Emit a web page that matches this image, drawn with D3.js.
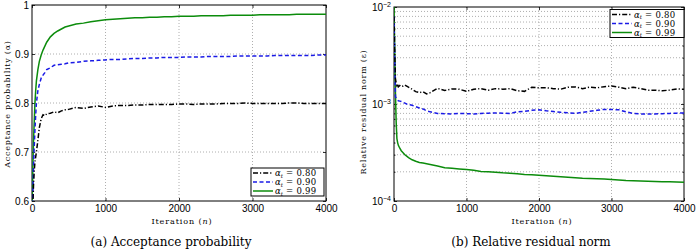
<!DOCTYPE html>
<html>
<head>
<meta charset="utf-8">
<script src="https://cdn.jsdelivr.net/npm/d3@7"></script>
<style>
  body { margin: 0; background: #fff; }
  svg { display: block; }
  .tick text { font-family: "Liberation Sans", Arial, sans-serif; font-size: 10px; fill: #000; }
  .grid line { stroke: #9a9a9a; stroke-width: 0.8; stroke-dasharray: 1,2; }
  text.serif { font-family: "DejaVu Serif", serif; }
</style>
</head>
<body>
<svg id="fig" width="699" height="250"></svg>
<script>
// iteration numbers shared by every series
var iterations = [0, 10, 20, 30, 40, 50, 60, 80, 100, 125, 150, 175, 200, 250, 300, 350, 400, 450, 500,
  600, 700, 800, 900, 1000, 1100, 1200, 1300, 1400, 1500, 1600, 1700, 1800, 1900, 2000,
  2100, 2200, 2300, 2400, 2500, 2600, 2700, 2800, 2900, 3000, 3100, 3200, 3300, 3400, 3500,
  3600, 3700, 3800, 3900, 4000];

// (a) acceptance probability
var accept80 = [0.50, 0.58, 0.63, 0.66, 0.68, 0.69, 0.70, 0.724, 0.75, 0.768, 0.776, 0.774, 0.778, 0.779, 0.782, 0.780, 0.784, 0.786, 0.787,
  0.791, 0.789, 0.792, 0.794, 0.791, 0.794, 0.795, 0.795, 0.796, 0.796, 0.797, 0.797, 0.797, 0.797, 0.798,
  0.798, 0.797, 0.798, 0.798, 0.798, 0.799, 0.799, 0.799, 0.800, 0.799, 0.799, 0.799, 0.799, 0.799, 0.800,
  0.800, 0.799, 0.799, 0.799, 0.799];
var accept90 = [0.50, 0.60, 0.67, 0.71, 0.745, 0.775, 0.80, 0.825, 0.838, 0.851, 0.857, 0.862, 0.868, 0.872, 0.877, 0.878, 0.879, 0.880, 0.882,
  0.883, 0.885, 0.886, 0.887, 0.888, 0.889, 0.889, 0.890, 0.891, 0.891, 0.892, 0.892, 0.893, 0.893, 0.893,
  0.894, 0.894, 0.894, 0.895, 0.895, 0.895, 0.895, 0.896, 0.896, 0.896, 0.896, 0.896, 0.897, 0.897, 0.897,
  0.897, 0.897, 0.897, 0.898, 0.898];
var accept99 = [0.58, 0.66, 0.72, 0.76, 0.80, 0.825, 0.845, 0.868, 0.885, 0.898, 0.908, 0.916, 0.924, 0.935, 0.942, 0.947, 0.951, 0.955, 0.957,
  0.961, 0.963, 0.966, 0.968, 0.970, 0.971, 0.972, 0.973, 0.974, 0.974, 0.975, 0.975, 0.976, 0.976, 0.977,
  0.977, 0.977, 0.978, 0.978, 0.978, 0.978, 0.979, 0.979, 0.979, 0.979, 0.980, 0.980, 0.980, 0.980, 0.980,
  0.981, 0.981, 0.981, 0.981, 0.981];

// (b) relative residual norm
var resid80 = [8e-3, 3.5e-3, 1.8e-3, 1.65e-3, 1.55e-3, 1.6e-3, 1.5e-3, 1.55e-3, 1.51e-3, 1.53e-3, 1.57e-3, 1.53e-3, 1.49e-3, 1.42e-3, 1.34e-3, 1.31e-3, 1.34e-3, 1.27e-3, 1.31e-3,
  1.45e-3, 1.38e-3, 1.43e-3, 1.42e-3, 1.35e-3, 1.42e-3, 1.44e-3, 1.39e-3, 1.44e-3, 1.42e-3, 1.44e-3, 1.37e-3, 1.35e-3, 1.49e-3, 1.47e-3,
  1.47e-3, 1.44e-3, 1.42e-3, 1.49e-3, 1.50e-3, 1.44e-3, 1.49e-3, 1.47e-3, 1.51e-3, 1.53e-3, 1.49e-3, 1.44e-3, 1.49e-3, 1.44e-3, 1.39e-3,
  1.39e-3, 1.37e-3, 1.39e-3, 1.43e-3, 1.42e-3];
var resid90 = [8e-3, 3e-3, 1.19e-3, 1.15e-3, 1.12e-3, 1.10e-3, 1.08e-3, 1.07e-3, 1.06e-3, 1.04e-3, 1.02e-3, 1.0e-3, 0.99e-3, 0.97e-3, 0.94e-3, 0.91e-3, 0.89e-3, 0.85e-3, 0.83e-3,
  0.80e-3, 0.795e-3, 0.79e-3, 0.80e-3, 0.795e-3, 0.79e-3, 0.80e-3, 0.805e-3, 0.81e-3, 0.805e-3, 0.80e-3, 0.83e-3, 0.84e-3, 0.86e-3, 0.87e-3,
  0.85e-3, 0.835e-3, 0.82e-3, 0.81e-3, 0.80e-3, 0.82e-3, 0.84e-3, 0.86e-3, 0.88e-3, 0.88e-3, 0.87e-3, 0.83e-3, 0.80e-3, 0.79e-3, 0.79e-3,
  0.79e-3, 0.795e-3, 0.80e-3, 0.805e-3, 0.81e-3];
var resid99 = [1e-2, 3.5e-3, 1.3e-3, 6.5e-4, 4.4e-4, 4.0e-4, 3.75e-4, 3.5e-4, 3.3e-4, 3.15e-4, 3.0e-4, 2.9e-4, 2.8e-4, 2.66e-4, 2.57e-4, 2.5e-4, 2.46e-4, 2.42e-4, 2.38e-4,
  2.3e-4, 2.2e-4, 2.17e-4, 2.14e-4, 2.11e-4, 2.07e-4, 2.02e-4, 2.0e-4, 1.98e-4, 1.95e-4, 1.93e-4, 1.91e-4, 1.88e-4, 1.86e-4, 1.84e-4,
  1.82e-4, 1.80e-4, 1.78e-4, 1.76e-4, 1.74e-4, 1.72e-4, 1.71e-4, 1.70e-4, 1.69e-4, 1.67e-4, 1.65e-4, 1.63e-4, 1.62e-4, 1.61e-4, 1.60e-4,
  1.59e-4, 1.58e-4, 1.575e-4, 1.57e-4, 1.565e-4];

var targetLabels = ["0.80", "0.90", "0.99"];
var xTicks = [0, 1000, 2000, 3000, 4000];
var acceptTicks = [0.6, 0.7, 0.8, 0.9, 1];
var residTicks = [1e-4, 1e-3, 1e-2];
var captions = ["(a) Acceptance probability", "(b) Relative residual norm"];
var yTitles = ["Acceptance probability (\u03b1)", "Relative residual norm (\u03b5)"];

var colors = ["#000000", "#1a1ae6", "#0c8c0c"];
var dashes = ["5,2,1.2,2", "4,2.5", null];

var svg = d3.select("#fig");

var xA = d3.scaleLinear().domain([0, 4000]).range([32, 326]);
var yA = d3.scaleLinear().domain([0.6, 1]).range([201, 5]);
var xR = d3.scaleLinear().domain([0, 4000]).range([394, 684]);
var yR = d3.scaleLog().domain([1e-4, 1e-2]).range([201, 7]);

function serifText(sel, size) {
  return sel.append("text").attr("class", "serif").style("font-size", size + "px").attr("fill", "#000");
}

function frame(id, x, y, yTickVals, gridY, minorY) {
  var g = svg.append("g");
  var x0 = x.range()[0], x1 = x.range()[1], y0 = y.range()[1], y1 = y.range()[0];

  var grid = g.append("g").attr("class", "grid");
  grid.selectAll(".gx").data(xTicks.slice(1, -1)).enter().append("line")
    .attr("x1", x).attr("x2", x).attr("y1", y0).attr("y2", y1);
  grid.selectAll(".gy").data(gridY).enter().append("line")
    .attr("x1", x0).attr("x2", x1).attr("y1", y).attr("y2", y);

  g.append("defs").append("clipPath").attr("id", id)
    .append("rect").attr("x", x0).attr("y", y0).attr("width", x1 - x0).attr("height", y1 - y0);

  g.append("g").attr("transform", "translate(0," + y1 + ")")
    .call(d3.axisBottom(x).tickValues(xTicks).tickSize(-3).tickPadding(4).tickFormat(d3.format("d")));
  g.append("g").attr("transform", "translate(0," + y0 + ")")
    .call(d3.axisTop(x).tickValues(xTicks).tickSize(-3).tickFormat(""));
  var left = g.append("g").attr("transform", "translate(" + x0 + ",0)")
    .call(d3.axisLeft(y).tickValues(yTickVals).tickSize(-3).tickPadding(3));
  g.append("g").attr("transform", "translate(" + x1 + ",0)")
    .call(d3.axisRight(y).tickValues(yTickVals).tickSize(-3).tickFormat(""));
  if (minorY) {
    g.append("g").attr("transform", "translate(" + x0 + ",0)")
      .call(d3.axisLeft(y).tickValues(minorY).tickSize(-1.5).tickFormat(""));
    g.append("g").attr("transform", "translate(" + x1 + ",0)")
      .call(d3.axisRight(y).tickValues(minorY).tickSize(-1.5).tickFormat(""));
  }
  g.selectAll(".domain").remove();
  g.selectAll(".tick line").attr("stroke", "#000").attr("stroke-width", 0.8);

  g.append("rect").attr("x", x0).attr("y", y0).attr("width", x1 - x0).attr("height", y1 - y0)
    .attr("fill", "none").attr("stroke", "#000").attr("stroke-width", 1);

  return {g: g, left: left};
}

function drawSeries(g, id, x, y, list) {
  var line = d3.line().x(function (d, i) { return x(iterations[i]); }).y(function (d) { return y(d); });
  g.append("g").attr("clip-path", "url(#" + id + ")")
    .selectAll("path").data(list.slice().reverse()).enter().append("path")
    .attr("d", function (d) { return line(d.values); })
    .attr("fill", "none")
    .attr("stroke", function (d) { return d.color; })
    .attr("stroke-width", 1.5)
    .attr("stroke-dasharray", function (d) { return d.dash; });
}

function legend(g, lx, ly, w, list) {
  var lg = g.append("g").attr("transform", "translate(" + lx + "," + ly + ")");
  lg.append("rect").attr("width", w).attr("height", 28).attr("fill", "#fff")
    .attr("stroke", "#000").attr("stroke-width", 1);
  var row = lg.selectAll(".row").data(list).enter().append("g")
    .attr("transform", function (d, i) { return "translate(0," + (5 + i * 9) + ")"; });
  row.append("line").attr("x1", 2).attr("x2", 22).attr("y1", 0).attr("y2", 0)
    .attr("stroke", function (d) { return d.color; }).attr("stroke-width", 1.5)
    .attr("stroke-dasharray", function (d) { return d.dash; });
  var t = serifText(row, 8.5).attr("x", 24).attr("y", 3);
  t.append("tspan").attr("font-style", "italic").text("\u03b1");
  t.append("tspan").attr("font-style", "italic").style("font-size", "5.5px").attr("dy", 1.5).text("t");
  t.append("tspan").attr("dy", -1.5).attr("letter-spacing", "0.3px").text(function (d) { return " = " + d.label; });
}

function series(v80, v90, v99) {
  return [v80, v90, v99].map(function (v, i) {
    return {values: v, color: colors[i], dash: dashes[i], label: targetLabels[i]};
  });
}

// panel (a)
var pa = frame("clipA", xA, yA, acceptTicks, acceptTicks.slice(1, -1), null);
pa.left.selectAll(".tick text").text(function (d) { return d === 1 ? "1" : d3.format(".1f")(d); });
var listA = series(accept80, accept90, accept99);
drawSeries(pa.g, "clipA", xA, yA, listA);
legend(pa.g, 251, 168, 73, listA);

// panel (b)
var minorR = yR.ticks().filter(function (d) { return residTicks.indexOf(d) < 0; });
var pb = frame("clipB", xR, yR, residTicks, yR.ticks().slice(1, -1), minorR);
pb.left.selectAll(".tick text").each(function (d) {
  var t = d3.select(this).text(null);
  t.append("tspan").text("10");
  t.append("tspan").attr("font-size", "7px").attr("dy", "-0.6em").text("\u2212" + Math.round(-Math.log10(d)));
});
var listB = series(resid80, resid90, resid99);
drawSeries(pb.g, "clipB", xR, yR, listB);
legend(pb.g, 610, 9.5, 74, listB);

// axis titles and captions
[xA, xR].forEach(function (x, i) {
  var cx = (x.range()[0] + x.range()[1]) / 2;
  var xt = serifText(svg, 8).attr("x", cx + 3).attr("y", 224)
    .attr("text-anchor", "middle").attr("letter-spacing", "0.9px");
  xt.append("tspan").text("Iteration (");
  xt.append("tspan").attr("font-style", "italic").text("n");
  xt.append("tspan").text(")");
  serifText(svg, 12).attr("x", cx - 8).attr("y", 246)
    .attr("text-anchor", "middle").text(captions[i]);
});

serifText(svg, 8).attr("transform", "translate(10,104) rotate(-90)")
  .attr("text-anchor", "middle").attr("letter-spacing", "0.75px").text(yTitles[0]);
serifText(svg, 8).attr("transform", "translate(366,112) rotate(-90)")
  .attr("text-anchor", "middle").attr("letter-spacing", "0.75px").text(yTitles[1]);
</script>
</body>
</html>
